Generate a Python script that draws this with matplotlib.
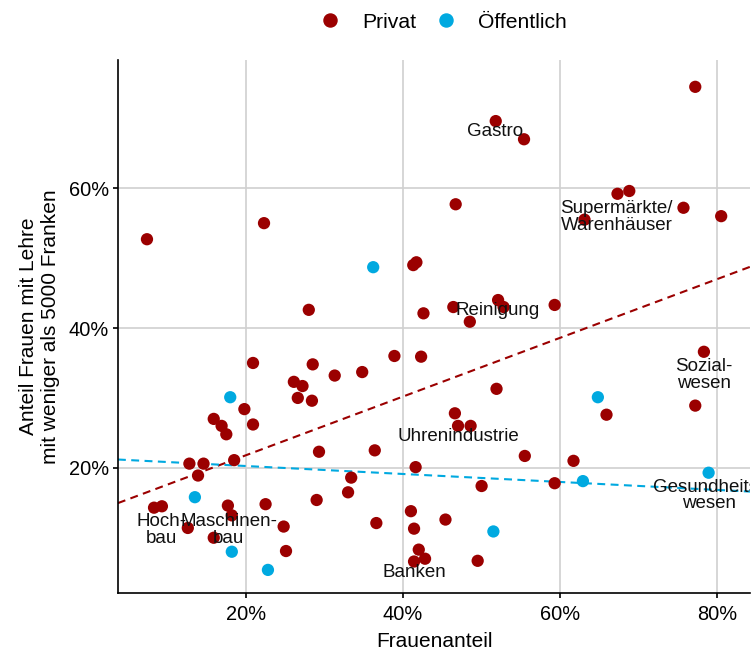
import numpy as np
import matplotlib
matplotlib.use("Agg")
import matplotlib.pyplot as plt
from matplotlib.ticker import PercentFormatter
from matplotlib.lines import Line2D

plt.rcParams["font.family"] = ["Liberation Sans", "DejaVu Sans"]

RED = "#9b0000"
BLUE = "#00a9e0"

# Privat sector: Frauenanteil / Anteil mit Lehre < 5000 Fr.
priv_x = [0.074, 0.223, 0.413, 0.417, 0.280, 0.426, 0.772, 0.518, 0.554, 0.673,
          0.688, 0.757, 0.805, 0.631, 0.467, 0.464, 0.521, 0.528, 0.485, 0.593,
          0.209, 0.285, 0.389, 0.423, 0.313, 0.348, 0.261, 0.272, 0.266, 0.284,
          0.198, 0.209, 0.159, 0.169, 0.175, 0.293, 0.364, 0.185, 0.128, 0.146,
          0.139, 0.416, 0.334, 0.330, 0.290, 0.083, 0.093, 0.177, 0.225, 0.182,
          0.126, 0.248, 0.159, 0.366, 0.410, 0.414, 0.251, 0.420, 0.414, 0.428,
          0.783, 0.772, 0.519, 0.466, 0.470, 0.486, 0.659, 0.555, 0.617, 0.500,
          0.593, 0.454, 0.495]
priv_y = [0.527, 0.550, 0.490, 0.494, 0.426, 0.421, 0.745, 0.696, 0.670, 0.592,
          0.596, 0.572, 0.560, 0.555, 0.577, 0.430, 0.440, 0.430, 0.409, 0.433,
          0.350, 0.348, 0.360, 0.359, 0.332, 0.337, 0.323, 0.317, 0.300, 0.296,
          0.284, 0.262, 0.270, 0.260, 0.248, 0.223, 0.225, 0.211, 0.206, 0.206,
          0.189, 0.201, 0.186, 0.165, 0.154, 0.143, 0.145, 0.146, 0.148, 0.132,
          0.114, 0.116, 0.100, 0.121, 0.138, 0.113, 0.081, 0.083, 0.066, 0.070,
          0.366, 0.289, 0.313, 0.278, 0.260, 0.260, 0.276, 0.217, 0.210, 0.174,
          0.178, 0.126, 0.067]

# Öffentlicher Sektor
pub_x = [0.362, 0.180, 0.135, 0.182, 0.228, 0.648, 0.629, 0.789, 0.515]
pub_y = [0.487, 0.301, 0.158, 0.080, 0.054, 0.301, 0.181, 0.193, 0.109]

# lineare Trends (gewichtet): Steigung, Achsenabschnitt
trend_slope = [0.420, -0.057]
trend_icpt = [0.134, 0.214]

# Branchen-Beschriftungen
lab_text = ["Gastro", "Supermärkte/\nWarenhäuser", "Reinigung", "Sozial-\nwesen",
            "Uhrenindustrie", "Gesundheits-\nwesen", "Hoch-\nbau", "Maschinen-\nbau",
            "Banken"]
lab_x = [0.517, 0.672, 0.521, 0.783, 0.470, 0.789, 0.092, 0.178, 0.414]
lab_y = [0.681, 0.559, 0.425, 0.333, 0.245, 0.160, 0.111, 0.111, 0.050]

XLIM = (0.037, 0.842)
YLIM = (0.021, 0.783)

fig = plt.figure(figsize=(7.51, 6.55), dpi=100)
ax = fig.add_axes([0.157, 0.0947, 0.842, 0.8133])

xx = np.array(XLIM)
for k, d, col in zip(trend_slope, trend_icpt, [RED, BLUE]):
    ax.plot(xx, k * xx + d, color=col, ls=(0, (3.8, 2.6)), lw=1.5, zorder=2)

ax.scatter(priv_x, priv_y, s=78, color=RED, edgecolors="none", zorder=3)
ax.scatter(pub_x, pub_y, s=78, color=BLUE, edgecolors="none", zorder=3)

for t, x, y in zip(lab_text, lab_x, lab_y):
    ax.text(x, y, t, ha="center", va="center", fontsize=13.5, color="#111111",
            linespacing=0.95, zorder=4, clip_on=True)

ax.set_xlim(*XLIM)
ax.set_ylim(*YLIM)
ax.set_xticks([0.2, 0.4, 0.6, 0.8])
ax.set_yticks([0.2, 0.4, 0.6])
ax.xaxis.set_major_formatter(PercentFormatter(1.0, decimals=0))
ax.yaxis.set_major_formatter(PercentFormatter(1.0, decimals=0))
ax.grid(True, color="#d0d0d0", lw=1.2)
ax.set_axisbelow(True)
for s in ["top", "right"]:
    ax.spines[s].set_visible(False)
for s in ["left", "bottom"]:
    ax.spines[s].set_linewidth(1.2)
ax.tick_params(labelsize=14.4, length=3.5, width=1.2, colors="black", pad=3)
ax.tick_params(axis="x", pad=5)
ax.set_xlabel("Frauenanteil", fontsize=15, labelpad=6)
ax.set_ylabel("Anteil Frauen mit Lehre\nmit weniger als 5000 Franken", fontsize=15,
              labelpad=6)

handles = [Line2D([], [], ls="", marker="o", ms=9.4, color=RED, label="Privat"),
           Line2D([], [], ls="", marker="o", ms=9.4, color=BLUE, label="Öffentlich")]
fig.legend(handles=handles, loc="center", bbox_to_anchor=(0.59, 0.966), ncol=2,
           frameon=False, fontsize=15.2, handlelength=1.0, handletextpad=1.0,
           columnspacing=0.93)

fig.savefig("out.png", dpi=100)
